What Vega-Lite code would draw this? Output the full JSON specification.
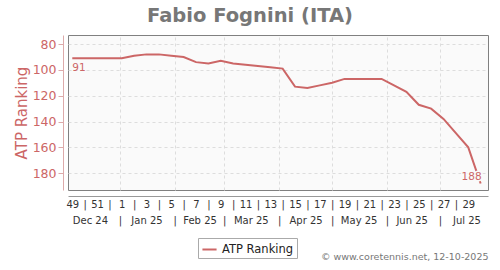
{
  "$schema": "https://vega.github.io/schema/vega-lite/v6.json",
  "autosize": {"type": "none"},
  "width": 420,
  "height": 155,
  "padding": {"left": 68, "top": 35, "right": 12, "bottom": 80},
  "title": {"text": "Fabio Fognini (ITA)", "fontSize": 19.5, "fontWeight": "bold", "color": "#777777", "anchor": "middle", "frame": "group", "dx": -28, "offset": 9},
  "config": {
    "font": "DejaVu Sans",
    "view": {"fill": "#fafafa", "stroke": "#808080", "strokeWidth": 1},
    "legend": {"orient": "none", "legendX": 130, "legendY": 203, "strokeColor": "#aaaaaa", "padding": 3, "symbolType": "stroke", "symbolStrokeWidth": 2, "symbolSize": 200, "labelFontSize": 11.5, "labelColor": "#222222", "labelLimit": 200}
  },
  "data": {"values": [
    {"date": "2024-12-05", "week": 49, "rank": 91},
    {"date": "2024-12-12", "week": 50, "rank": 91},
    {"date": "2024-12-19", "week": 51, "rank": 91},
    {"date": "2024-12-26", "week": 52, "rank": 91},
    {"date": "2025-01-02", "week": 1, "rank": 91},
    {"date": "2025-01-09", "week": 2, "rank": 89},
    {"date": "2025-01-16", "week": 3, "rank": 88},
    {"date": "2025-01-23", "week": 4, "rank": 88},
    {"date": "2025-01-30", "week": 5, "rank": 89},
    {"date": "2025-02-06", "week": 6, "rank": 90},
    {"date": "2025-02-13", "week": 7, "rank": 94},
    {"date": "2025-02-20", "week": 8, "rank": 95},
    {"date": "2025-02-27", "week": 9, "rank": 93},
    {"date": "2025-03-06", "week": 10, "rank": 95},
    {"date": "2025-03-13", "week": 11, "rank": 96},
    {"date": "2025-03-20", "week": 12, "rank": 97},
    {"date": "2025-03-27", "week": 13, "rank": 98},
    {"date": "2025-04-03", "week": 14, "rank": 99},
    {"date": "2025-04-10", "week": 15, "rank": 113},
    {"date": "2025-04-17", "week": 16, "rank": 114},
    {"date": "2025-04-24", "week": 17, "rank": 112},
    {"date": "2025-05-01", "week": 18, "rank": 110},
    {"date": "2025-05-08", "week": 19, "rank": 107},
    {"date": "2025-05-15", "week": 20, "rank": 107},
    {"date": "2025-05-22", "week": 21, "rank": 107},
    {"date": "2025-05-29", "week": 22, "rank": 107},
    {"date": "2025-06-05", "week": 23, "rank": 112},
    {"date": "2025-06-12", "week": 24, "rank": 117},
    {"date": "2025-06-19", "week": 25, "rank": 127},
    {"date": "2025-06-26", "week": 26, "rank": 130},
    {"date": "2025-07-03", "week": 27, "rank": 138},
    {"date": "2025-07-10", "week": 28, "rank": 149},
    {"date": "2025-07-17", "week": 29, "rank": 160},
    {"date": "2025-07-24", "week": 30, "rank": 188}
  ]},
  "encoding": {
    "y": {"field": "rank", "type": "quantitative", "title": "ATP Ranking",
      "scale": {"domain": [73, 193], "reverse": true, "nice": false, "zero": false},
      "axis": {"values": [80, 100, 120, 140, 160, 180], "offset": 5, "domainColor": "#ddaaaa", "tickColor": "#ddaaaa", "tickSize": 5, "labelPadding": 2, "labelColor": "#cc6666", "labelFontSize": 12.5, "titleColor": "#cc6666", "titleFontSize": 15, "titleFontWeight": "normal", "titlePadding": 3, "gridColor": "#dddddd", "gridDash": [3, 3]}}
  },
  "layer": [
    {
      "mark": {"type": "line", "strokeWidth": 2},
      "encoding": {
        "x": {"field": "date", "type": "temporal",
          "scale": {"type": "utc", "domain": [{"year": 2024, "month": 12, "date": 2, "hours": 14, "utc": true}, {"year": 2025, "month": 7, "date": 28, "hours": 4, "utc": true}], "nice": false},
          "axis": {"orient": "bottom", "offset": 6, "title": null, "grid": false, "ticks": false, "domainColor": "#999999", "labelPadding": 3, "labelFontSize": 10, "labelColor": "#333333", "labelOverlap": false, "labelFlush": false,
            "values": [
              {"year": 2024, "month": 12, "date": 5, "utc": true},
              {"year": 2024, "month": 12, "date": 12, "utc": true},
              {"year": 2024, "month": 12, "date": 19, "utc": true},
              {"year": 2024, "month": 12, "date": 26, "utc": true},
              {"year": 2025, "month": 1, "date": 2, "utc": true},
              {"year": 2025, "month": 1, "date": 9, "utc": true},
              {"year": 2025, "month": 1, "date": 16, "utc": true},
              {"year": 2025, "month": 1, "date": 23, "utc": true},
              {"year": 2025, "month": 1, "date": 30, "utc": true},
              {"year": 2025, "month": 2, "date": 6, "utc": true},
              {"year": 2025, "month": 2, "date": 13, "utc": true},
              {"year": 2025, "month": 2, "date": 20, "utc": true},
              {"year": 2025, "month": 2, "date": 27, "utc": true},
              {"year": 2025, "month": 3, "date": 6, "utc": true},
              {"year": 2025, "month": 3, "date": 13, "utc": true},
              {"year": 2025, "month": 3, "date": 20, "utc": true},
              {"year": 2025, "month": 3, "date": 27, "utc": true},
              {"year": 2025, "month": 4, "date": 3, "utc": true},
              {"year": 2025, "month": 4, "date": 10, "utc": true},
              {"year": 2025, "month": 4, "date": 17, "utc": true},
              {"year": 2025, "month": 4, "date": 24, "utc": true},
              {"year": 2025, "month": 5, "date": 1, "utc": true},
              {"year": 2025, "month": 5, "date": 8, "utc": true},
              {"year": 2025, "month": 5, "date": 15, "utc": true},
              {"year": 2025, "month": 5, "date": 22, "utc": true},
              {"year": 2025, "month": 5, "date": 29, "utc": true},
              {"year": 2025, "month": 6, "date": 5, "utc": true},
              {"year": 2025, "month": 6, "date": 12, "utc": true},
              {"year": 2025, "month": 6, "date": 19, "utc": true},
              {"year": 2025, "month": 6, "date": 26, "utc": true},
              {"year": 2025, "month": 7, "date": 3, "utc": true},
              {"year": 2025, "month": 7, "date": 10, "utc": true},
              {"year": 2025, "month": 7, "date": 17, "utc": true}
            ],
            "labelExpr": "toNumber(utcFormat(datum.value, '%V')) % 2 == 1 ? '' + toNumber(utcFormat(datum.value, '%V')) : '|'"}},
        "color": {"datum": "ATP Ranking", "type": "nominal", "scale": {"range": ["#cc6666"]}, "legend": {"title": null}}
      }
    },
    {
      "transform": [{"filter": "datum.week == 49"}],
      "mark": {"type": "text", "align": "left", "baseline": "top", "dy": 5, "fontSize": 10.5, "color": "#cc6666"},
      "encoding": {
        "x": {"field": "date", "type": "temporal",
          "axis": {"orient": "bottom", "offset": 6, "domain": false, "ticks": false, "labelPadding": 19, "labelFontSize": 10, "labelColor": "#333333", "labelOverlap": false, "labelFlush": false,
            "grid": true, "gridColor": "#dddddd", "gridDash": [3, 3],
            "gridOpacity": {"condition": {"test": "utcdate(datum.value) == 1", "value": 1}, "value": 0},
            "values": [
              {"year": 2024, "month": 12, "date": 15, "utc": true},
              {"year": 2025, "month": 1, "date": 1, "utc": true},
              {"year": 2025, "month": 1, "date": 16, "utc": true},
              {"year": 2025, "month": 2, "date": 1, "utc": true},
              {"year": 2025, "month": 2, "date": 15, "utc": true},
              {"year": 2025, "month": 3, "date": 1, "utc": true},
              {"year": 2025, "month": 3, "date": 16, "utc": true},
              {"year": 2025, "month": 4, "date": 1, "utc": true},
              {"year": 2025, "month": 4, "date": 16, "utc": true},
              {"year": 2025, "month": 5, "date": 1, "utc": true},
              {"year": 2025, "month": 5, "date": 16, "utc": true},
              {"year": 2025, "month": 6, "date": 1, "utc": true},
              {"year": 2025, "month": 6, "date": 15, "utc": true},
              {"year": 2025, "month": 7, "date": 1, "utc": true},
              {"year": 2025, "month": 7, "date": 16, "utc": true}
            ],
            "labelExpr": "utcdate(datum.value) == 1 ? '|' : utcFormat(datum.value, '%b %y')",
            "title": "© www.coretennis.net, 12-10-2025", "titleAnchor": "end", "titleFontSize": 9.5, "titleFontWeight": "normal", "titleColor": "#777777", "titlePadding": 26}},
        "text": {"field": "rank", "type": "quantitative"}
      }
    },
    {
      "transform": [{"filter": "datum.week == 30"}],
      "mark": {"type": "text", "align": "right", "baseline": "alphabetic", "dy": -4, "dx": 1, "fontSize": 10.5, "color": "#fafafa", "stroke": "#fafafa", "strokeWidth": 3},
      "encoding": {
        "x": {"field": "date", "type": "temporal", "axis": null},
        "text": {"field": "rank", "type": "quantitative"}
      }
    },
    {
      "transform": [{"filter": "datum.week == 30"}],
      "mark": {"type": "text", "align": "right", "baseline": "alphabetic", "dy": -4, "dx": 1, "fontSize": 10.5, "color": "#cc6666"},
      "encoding": {
        "x": {"field": "date", "type": "temporal", "axis": null},
        "text": {"field": "rank", "type": "quantitative"}
      }
    }
  ],
  "resolve": {"axis": {"x": "independent"}}
}
